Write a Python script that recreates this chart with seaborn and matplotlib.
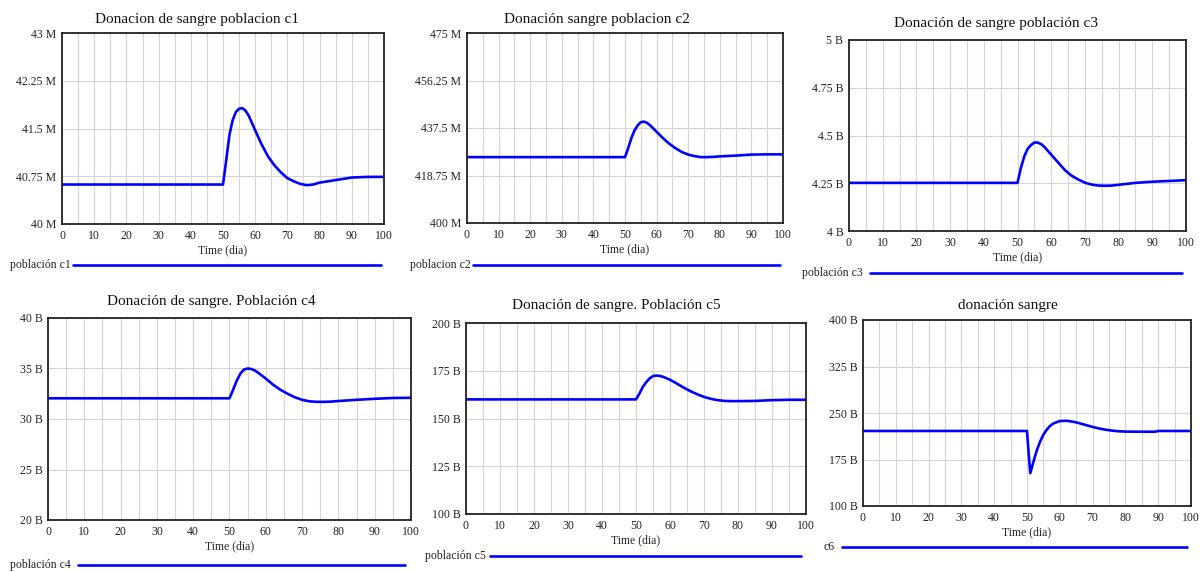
import matplotlib
matplotlib.use("Agg")
import matplotlib.pyplot as plt
from matplotlib.lines import Line2D
import numpy as np
import pandas as pd
import seaborn as sns

# time grids (dia)
t = [0, 50, 51, 52, 53, 54, 55, 56, 57, 58, 60, 62, 64, 66, 68, 70, 72, 74,
     76, 78, 80, 85, 90, 95, 100]
t6 = [0, 50, 50.5, 51, 52, 53, 54, 55, 56, 57, 58, 60, 62, 64, 66, 68, 70, 72,
      74, 76, 78, 80, 85, 89, 90, 95, 100]

# series values
c1 = [40.62, 40.62, 41.0, 41.4, 41.63, 41.76, 41.81, 41.82, 41.78, 41.7, 41.47,
      41.25, 41.06, 40.92, 40.81, 40.72, 40.67, 40.63, 40.61, 40.62, 40.65,
      40.69, 40.73, 40.74, 40.74]
c2 = [426, 426, 429.5, 433.5, 436.5, 438.5, 439.8, 440, 439.5, 438.5, 436,
      433.5, 431.3, 429.5, 428, 427, 426.4, 426, 426, 426.1, 426.3, 426.6,
      427, 427.1, 427.1]
c3 = [4.252, 4.252, 4.33, 4.39, 4.43, 4.45, 4.463, 4.463, 4.455, 4.44, 4.40,
      4.36, 4.32, 4.29, 4.27, 4.253, 4.243, 4.238, 4.237, 4.238, 4.242, 4.252,
      4.258, 4.262, 4.266]
c4 = [32.05, 32.05, 32.9, 33.8, 34.5, 34.9, 35.0, 34.95, 34.8, 34.55, 34.0,
      33.4, 32.9, 32.5, 32.15, 31.9, 31.75, 31.7, 31.7, 31.72, 31.78, 31.9,
      32.0, 32.08, 32.1]
c5 = [160, 160, 163, 166.5, 169, 171, 172.2, 172.5, 172.3, 171.8, 170.3,
      168.3, 166.2, 164.3, 162.7, 161.3, 160.3, 159.6, 159.2, 159.1, 159.1,
      159.2, 159.6, 159.8, 159.8]
c6 = [221, 221, 185, 153, 172, 190, 204, 215, 223, 229, 233, 237, 237.5, 236,
      233.5, 230.5, 227.5, 225, 223, 221.5, 220.5, 220, 219.8, 219.8, 221,
      221, 221]

titles = ["Donacion de sangre poblacion c1", "Donación sangre poblacion c2",
          "Donación de sangre población c3", "Donación de sangre. Población c4",
          "Donación de sangre. Población c5", "donación sangre"]
legend_names = ["población c1", "poblacion c2", "población c3",
                "población c4", "población c5", "c6"]
yticks = [[40, 40.75, 41.5, 42.25, 43],
          [400, 418.75, 437.5, 456.25, 475],
          [4, 4.25, 4.5, 4.75, 5],
          [20, 25, 30, 35, 40],
          [100, 125, 150, 175, 200],
          [100, 175, 250, 325, 400]]
ytick_labels = [["40 M", "40.75 M", "41.5 M", "42.25 M", "43 M"],
                ["400 M", "418.75 M", "437.5 M", "456.25 M", "475 M"],
                ["4 B", "4.25 B", "4.5 B", "4.75 B", "5 B"],
                ["20 B", "25 B", "30 B", "35 B", "40 B"],
                ["100 B", "125 B", "150 B", "175 B", "200 B"],
                ["100 B", "175 B", "250 B", "325 B", "400 B"]]
xticks = [0, 10, 20, 30, 40, 50, 60, 70, 80, 90, 100]

series = [(t, c1), (t, c2), (t, c3), (t, c4), (t, c5), (t6, c6)]

# layout in pixels: axes box (left, top, right, bottom), title centre, legend (text x, line x0, x1, y)
W, H = 1200, 572
boxes = [(62, 33, 384, 224), (467, 33, 783, 223), (849, 40, 1186, 231),
         (48, 318, 411, 520), (466, 323, 806, 514), (863, 320, 1191, 506)]
title_xy = [(197, 20), (597, 19), (996, 24), (211, 301), (616, 306), (1008, 305)]
legends = [(10, 73, 381, 265), (410, 473, 780, 265), (802, 870, 1182, 273),
           (10, 78, 405, 565), (425, 490, 801, 556), (823, 842, 1187, 547)]

sns.set_style("white")
plt.rcParams["font.family"] = ["Liberation Serif", "DejaVu Serif"]

fig = plt.figure(figsize=(W / 100, H / 100), dpi=100)
blue = "#0000ff"

for i, (tt, vals) in enumerate(series):
    l, tp, r, b = boxes[i]
    ax = fig.add_axes([l / W, 1 - b / H, (r - l) / W, (b - tp) / H])
    df = pd.DataFrame({"time": tt, "value": vals})
    sns.lineplot(data=df, x="time", y="value", ax=ax, color=blue,
                 linewidth=1.9, legend=False)
    ax.set_xlim(0, 100)
    ax.set_ylim(yticks[i][0], yticks[i][-1])
    ax.set_xticks(xticks)
    ax.set_xticks(np.arange(0, 101, 5), minor=True)
    ax.set_yticks(yticks[i])
    ax.set_yticklabels(ytick_labels[i])
    ax.grid(True, which="both", axis="x", color="#d4d4d4", linewidth=0.8)
    ax.grid(True, which="major", axis="y", color="#d4d4d4", linewidth=0.8)
    ax.tick_params(axis="both", which="both", length=0, labelsize=8.5,
                   pad=4, colors="#222222")
    for sp in ax.spines.values():
        sp.set_color("#222222")
        sp.set_linewidth(1.3)
    ax.set_xlabel("Time (dia)", fontsize=8.5, labelpad=2)
    ax.set_ylabel("")
    tx_c, ty_c = title_xy[i]
    fig.text(tx_c / W, 1 - ty_c / H, titles[i], ha="center",
             va="center", fontsize=11, color="#111111")
    tx, x0, x1, ly = legends[i]
    fig.text(tx / W, 1 - ly / H, legend_names[i], ha="left", va="center",
             fontsize=8.5, color="#222222")
    fig.add_artist(Line2D([x0 / W, x1 / W], [1 - ly / H, 1 - ly / H],
                          transform=fig.transFigure, color=blue, linewidth=1.9))

fig.savefig("out.png", dpi=100)
